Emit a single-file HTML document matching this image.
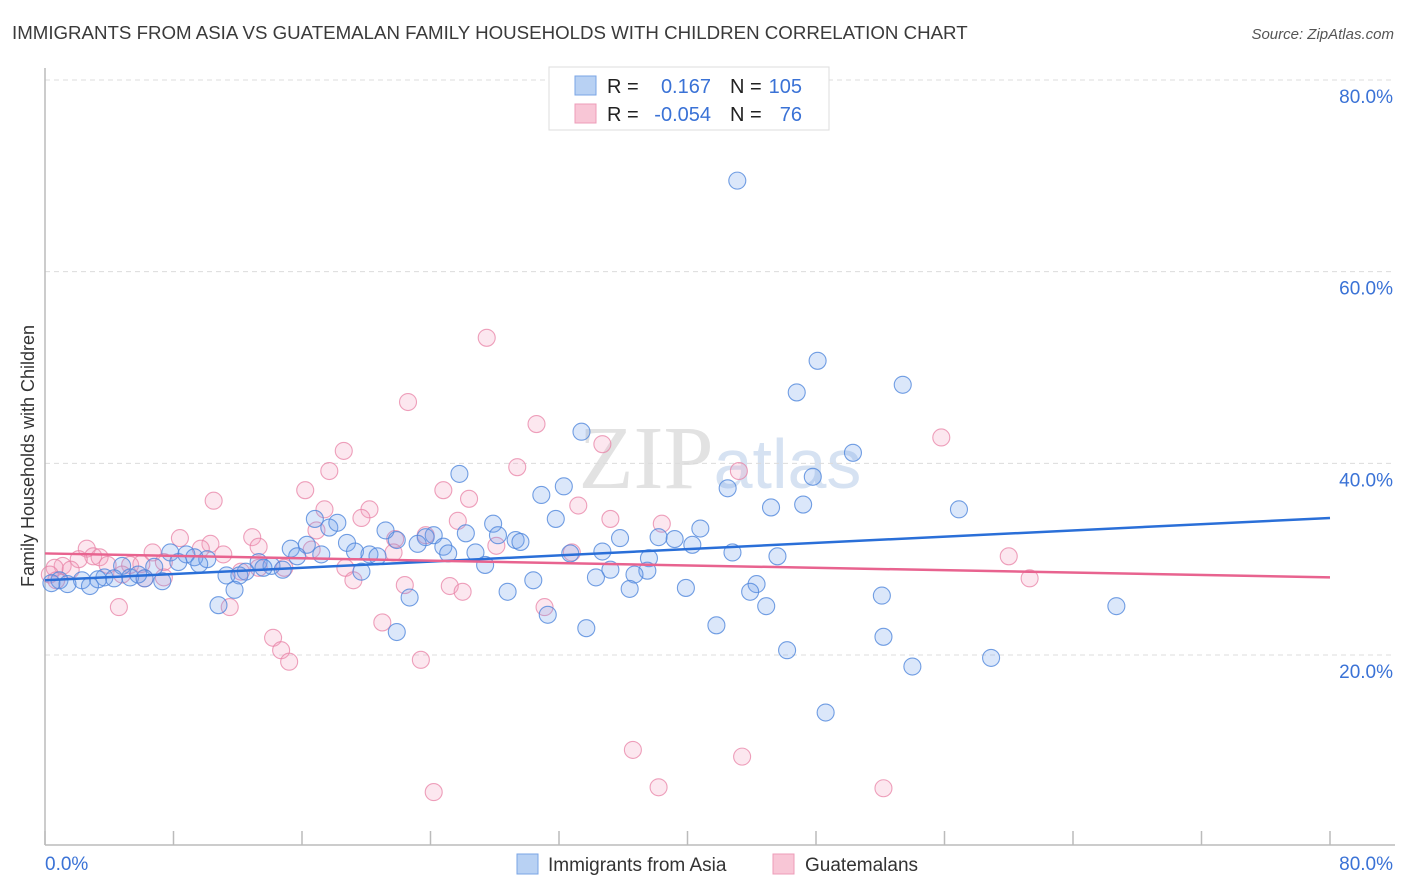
<!DOCTYPE html>
<html><head><meta charset="utf-8"><style>
body{margin:0;background:#fff;font-family:"Liberation Sans",sans-serif;}
#c{position:absolute;left:0;top:0;}
</style></head><body>
<svg id="c" width="1406" height="892" font-family="Liberation Sans, sans-serif">
<text x="12" y="39" font-size="18.7" fill="#3a3a3a">IMMIGRANTS FROM ASIA VS GUATEMALAN FAMILY HOUSEHOLDS WITH CHILDREN CORRELATION CHART</text>
<text x="1394" y="39" font-size="15" fill="#555" font-style="italic" text-anchor="end">Source: ZipAtlas.com</text>
<text x="720" y="488" font-size="90" fill="#e2e2e2" text-anchor="middle" font-family="Liberation Serif, serif">ZIP<tspan fill="#d6e2f2" font-family="Liberation Sans, sans-serif" font-size="70">atlas</tspan></text>
<g id="grid"></g>
<g id="axes"></g>
<g id="pts"></g>
<g id="lines"></g>
<text transform="translate(34,456) rotate(-90)" font-size="18" fill="#333" text-anchor="middle">Family Households with Children</text>
<g>
<rect x="549" y="67" width="280" height="63" fill="#fff" stroke="#ddd"/>
<rect x="575" y="76" width="21" height="19" fill="#b8d1f3" stroke="#7aa5e6"/>
<rect x="575" y="104" width="21" height="19" fill="#f8c6d6" stroke="#ee9cb8"/>
<text x="607" y="93" font-size="20" fill="#222">R =</text>
<text x="711" y="93" font-size="20" fill="#3a72d6" text-anchor="end">0.167</text>
<text x="730" y="93" font-size="20" fill="#222">N =</text>
<text x="802" y="93" font-size="20" fill="#3a72d6" text-anchor="end">105</text>
<text x="607" y="121" font-size="20" fill="#222">R =</text>
<text x="711" y="121" font-size="20" fill="#3a72d6" text-anchor="end">-0.054</text>
<text x="730" y="121" font-size="20" fill="#222">N =</text>
<text x="802" y="121" font-size="20" fill="#3a72d6" text-anchor="end">76</text>
</g>
<g>
<rect x="517" y="854" width="21" height="20" fill="#b8d1f3" stroke="#7aa5e6"/>
<text x="548" y="871" font-size="19" fill="#333">Immigrants from Asia</text>
<rect x="773" y="854" width="21" height="20" fill="#f8c6d6" stroke="#ee9cb8"/>
<text x="805" y="871" font-size="19" fill="#333">Guatemalans</text>
</g>
</svg>
<script>
const yTicks=[20,40,60,80];
const xTickVals=[0,8,16,24,32,40,48,56,64,72,80];
const xLabels=["0.0%","80.0%"];
const blueX=[43.1,48.1,46.8,53.4,50.3,33.4,25.8,47.8,42.5,32.3,30.9,45.2,47.2,56.9,31.8,16.8,17.7,18.2,27.9,40.8,21.2,26.2,28.2,24.2,23.7,29.3,29.6,35.8,38.2,39.2,21.9,18.8,23.2,24.8,40.3,16.3,15.3,19.3,34.7,42.8,45.6,20.2,25.1,17.2,20.7,15.7,32.7,37.6,26.8,8.8,7.8,9.3,10.1,8.3,9.6,27.4,13.3,14.1,13.6,14.8,12.5,6.8,4.8,37.5,35.2,19.7,11.3,12.1,36.7,34.3,5.3,6.2,3.7,4.3,5.8,7.3,30.4,2.3,3.3,0.9,0.4,1.4,2.8,44.3,11.8,39.9,36.4,28.8,43.9,22.7,52.1,44.9,10.8,66.7,31.3,41.8,33.7,21.9,52.2,46.2,58.9,54.0,48.6];
const blueY=[69.5,50.7,47.4,48.2,41.1,43.3,38.9,38.6,37.4,37.6,36.7,35.4,35.7,35.2,34.2,34.2,33.3,33.8,33.7,33.2,33.0,32.7,32.5,32.5,32.3,32.0,31.8,32.2,32.3,32.1,32.0,31.7,31.6,31.3,31.5,31.5,31.1,30.8,30.8,30.7,30.3,30.5,30.6,30.5,30.3,30.3,30.6,30.1,30.7,30.5,30.7,30.2,30.0,29.7,29.5,29.4,29.7,29.3,29.1,28.9,28.7,29.2,29.3,28.8,28.9,28.7,28.3,28.3,28.4,28.1,28.1,28.0,28.1,28.0,28.4,27.7,27.8,27.8,27.9,27.8,27.5,27.4,27.2,27.4,26.8,27.0,26.9,26.6,26.6,26.0,26.2,25.1,25.2,25.1,24.2,23.1,22.8,22.4,21.9,20.5,19.7,18.8,14.0];
const pinkX=[27.5,22.6,30.6,55.8,34.7,18.6,29.4,17.7,43.2,16.2,24.8,26.4,10.5,33.2,17.4,20.2,19.7,35.2,25.7,38.4,16.9,8.4,12.9,21.8,23.7,10.3,28.1,13.3,9.7,2.6,16.6,6.7,21.7,11.1,3.0,3.4,2.1,60.0,32.8,5.3,7.4,3.9,6.0,1.1,1.6,0.6,18.7,14.9,12.2,13.3,4.8,7.4,6.2,61.3,19.2,22.4,25.2,26.0,4.6,11.5,31.1,21.0,14.2,14.7,23.4,15.2,36.6,43.4,24.2,38.2,52.2,0.3,0.7];
const pinkY=[53.1,46.4,44.1,42.7,42.0,41.3,39.6,39.2,39.2,37.2,37.2,36.3,36.1,35.6,35.2,35.2,34.3,34.2,34.0,33.7,33.0,32.2,32.3,32.1,32.5,31.6,31.4,31.3,31.1,31.1,31.0,30.7,30.7,30.5,30.3,30.2,30.0,30.3,30.7,29.4,29.7,29.4,29.5,29.3,28.9,29.1,29.1,29.1,28.7,29.1,28.4,28.1,28.0,28.0,27.8,27.3,27.2,26.6,25.0,25.0,25.0,23.4,21.8,20.5,19.5,19.3,10.1,9.4,5.7,6.2,6.1,28.4,27.8];
const blueTrend=[27.8,34.3];
const pinkTrend=[30.6,28.1];
const NS="http://www.w3.org/2000/svg";
const X0=45,X1=1330,Y0=846.7,Y80=80;
function sx(v){return X0+(X1-X0)*v/80;}
function sy(v){return Y0-(Y0-Y80)*v/80;}
function mk(tag,attrs,parent){const e=document.createElementNS(NS,tag);for(const k in attrs)e.setAttribute(k,attrs[k]);parent.appendChild(e);return e;}
const grid=document.getElementById('grid'),axes=document.getElementById('axes'),pts=document.getElementById('pts'),lines=document.getElementById('lines');
yTicks.forEach(t=>{
 const l=mk('line',{x1:X0,x2:1395,y1:sy(t),y2:sy(t),stroke:'#dcdcdc','stroke-dasharray':'5,4'},grid);
 
 
 const tx=mk('text',{x:1393,y:sy(t)+23,'font-size':19,fill:'#3a72d6','text-anchor':'end'},grid);
 tx.textContent=t.toFixed(1)+'%';
 
 
});
const ax=mk('line',{x1:X0,x2:X0,y1:68,y2:845,stroke:'#bbb','stroke-width':1.5},axes);


const bx=mk('line',{x1:X0,x2:1395,y1:845,y2:845,stroke:'#bbb','stroke-width':1.5},axes);


xTickVals.forEach(v=>{
 const t=mk('line',{x1:sx(v),x2:sx(v),y1:831,y2:845,stroke:'#bbb','stroke-width':1.5},axes);
 
 
});
const xl0=mk('text',{x:45,y:870,'font-size':19,fill:'#3a72d6'},axes);xl0.textContent=xLabels[0];


const xl1=mk('text',{x:1393,y:870,'font-size':19,fill:'#3a72d6','text-anchor':'end'},axes);xl1.textContent=xLabels[1];


function dots(xs,ys,fill,stroke,name){
 xs.forEach((x,i)=>{
  const c=mk('circle',{cx:sx(x),cy:sy(ys[i]),r:8.5,fill:fill,stroke:stroke,'stroke-width':1.1},pts);
  
  
 });
}
dots(pinkX,pinkY,'rgba(244,160,190,0.25)','rgba(232,130,165,0.75)','point-guatemalans');
dots(blueX,blueY,'rgba(110,160,235,0.25)','rgba(80,135,220,0.8)','point-asia');
const bl=mk('line',{x1:sx(0),y1:sy(blueTrend[0]),x2:sx(80),y2:sy(blueTrend[1]),stroke:'#2a6fd8','stroke-width':2.5},lines);


const pl=mk('line',{x1:sx(0),y1:sy(pinkTrend[0]),x2:sx(80),y2:sy(pinkTrend[1]),stroke:'#e8638f','stroke-width':2.5},lines);


</script>
</body></html>
